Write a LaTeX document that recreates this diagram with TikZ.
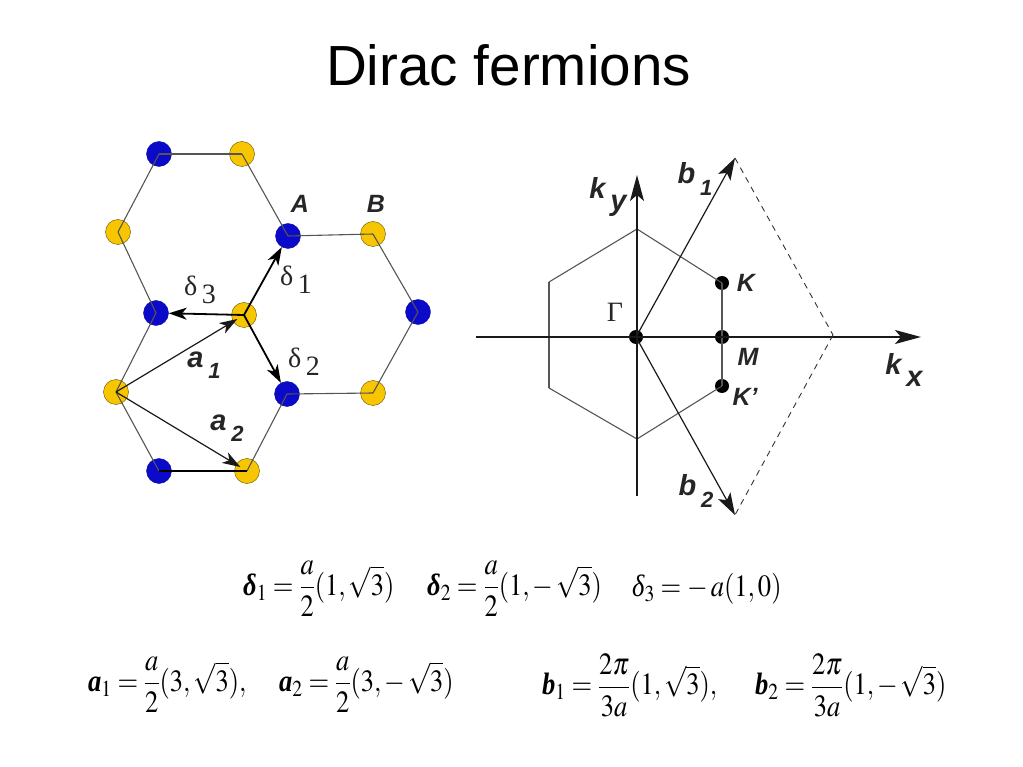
\documentclass[tikz,border=0pt]{standalone}
\usepackage{mathptmx}
\usepackage{amsmath}
\usepackage[no-math]{fontspec}
\setmainfont{Liberation Sans}
\newfontfamily\eqfont{Liberation Serif}
\usepackage{graphicx}
\usetikzlibrary{arrows.meta}
\definecolor{siteblue}{HTML}{0A0AC8}
\definecolor{siteyellow}{HTML}{F7C600}
\definecolor{bondgray}{HTML}{555555}
\newcommand{\bvec}[1]{\text{\eqfont\bfseries\itshape #1}}
\newcommand{\slab}[2]{#1\raisebox{-.38em}{\,\fontsize{22}{22}\selectfont #2}}
\newcommand{\klab}[2]{#1\raisebox{-.38em}{\,#2}}
\newcommand{\dlab}[1]{{\eqfont δ}\raisebox{-.3em}{\,\eqfont #1}}
\newcommand{\eqn}[1]{\scalebox{.885}[1.03]{$\displaystyle #1$}}

\begin{document}
\begin{tikzpicture}[x=1pt,y=-1pt,>={Stealth[length=18pt,width=12pt,inset=5pt]},
  a site/.style={circle,draw=siteblue!80!black,fill=siteblue,minimum size=25pt,inner sep=0pt},
  b site/.style={circle,draw=black!60!siteyellow,fill=siteyellow,minimum size=25pt,inner sep=0pt},
  k dot/.style={circle,fill=black,minimum size=14pt,inner sep=0pt},
  bond/.style={color=bondgray,line width=1.1pt},
  vec/.style={color=black,line width=1.8pt},
  lat/.style={color=black!90,line width=1.2pt},
  sym/.style={font=\fontsize{25}{25}\bfseries\itshape\selectfont,text=black!85,inner sep=0pt},
  big sym/.style={sym,font=\fontsize{29}{29}\bfseries\itshape\selectfont},
  grk/.style={font=\fontsize{28}{28}\selectfont,text=black!85,inner sep=0pt},
  eq/.style={anchor=west,inner sep=0pt,font=\fontsize{30}{36}\selectfont}]
  \useasboundingbox (0,0) rectangle (1023,767);

  \node[font=\fontsize{56.6}{56.6}\selectfont,inner sep=0pt] (title) at (508.5,65) {Dirac fermions};

  %% lattice
  \node[a site] (A1) at (159,154) {};
  \node[b site] (B1) at (242,154) {};
  \node[b site] (B2) at (118,232) {};
  \node[a site] (A2) at (288,236) {};
  \node[b site] (B3) at (373,234) {};
  \node[a site] (A3) at (156,313) {};
  \node[b site] (B4) at (244,315) {};
  \node[a site] (A4) at (418,312) {};
  \node[b site] (B5) at (116,392) {};
  \node[a site] (A5) at (287,394) {};
  \node[b site] (B6) at (373,393) {};
  \node[a site] (A6) at (159,471) {};
  \node[b site] (B7) at (247,471) {};

  \path[bond]
    (A1.center) edge (B1.center)
    (B1.center) edge (A2.center)
    (A2.center) edge (B3.center)
    (B3.center) edge (A4.center)
    (A4.center) edge (B6.center)
    (B6.center) edge (A5.center)
    (A5.center) edge (B7.center)
    (A6.center) edge (B5.center)
    (B5.center) edge (A3.center)
    (A3.center) edge (B2.center)
    (B2.center) edge (A1.center);
  \draw[draw=black,line width=1.2pt] (A6.center) -- (B7.center);

  \path[vec,->]
    (B4.center) edge (A2)
    (B4.center) edge (A5)
    (B4.center) edge (A3);
  \path[lat,->,shorten >=-5pt]
    (B5.center) edge (B4)
    (B5.center) edge (B7);

  \node[sym] (lblA) at (300,204) {A};
  \node[sym] (lblB) at (376,204) {B};
  \node[grk] (d1) at (296,280) {\dlab{1}};
  \node[grk] (d2) at (304,362) {\dlab{2}};
  \node[grk] (d3) at (200,290) {\dlab{3}};
  \node[big sym] (lbla1) at (204,365) {\slab{a}{1}};
  \node[big sym] (lbla2) at (227,428) {\slab{a}{2}};

  %% reciprocal lattice
  \node[k dot] (G) at (636,337) {};
  \node[k dot] (M) at (722,337) {};
  \node[k dot] (K) at (722,283) {};
  \node[k dot] (Kp) at (722,386) {};
  \coordinate (xl) at (476,337);
  \coordinate (xr) at (921,337);
  \coordinate (yb) at (637,496);
  \coordinate (yt) at (637,175);
  \coordinate (ht) at (637,229);
  \coordinate (hl) at (549,282);
  \coordinate (hd) at (549,388);
  \coordinate (hb) at (637,439);
  \coordinate (b1) at (735,158);
  \coordinate (b2) at (735,515);
  \coordinate (bx) at (833,335);

  \path[bond]
    (K.center) edge (ht)
    (ht) edge (hl)
    (hl) edge (hd)
    (hd) edge (hb)
    (hb) edge (Kp.center)
    (Kp.center) edge (K.center);
  \path[lat,-{Stealth[length=26pt,width=14pt,inset=6pt]}]
    (xl) edge (xr)
    (yb) edge (yt);
  \path[lat,-{Stealth[length=22pt,width=14pt,inset=5pt]}]
    (G.center) edge (b1)
    (G.center) edge (b2);
  \path[color=black!80,line width=.9pt,dash pattern=on 6pt off 5pt]
    (b1) edge (bx)
    (bx) edge (b2);

  \node[sym] (lblk) at (746,283) {K};
  \node[sym] (lblm) at (748,357) {M};
  \node[sym] (lblkp) at (745,397) {K'};
  \node[grk] (lblg) at (615,312) {\eqfont Γ};
  \node[big sym] (lblkx) at (904,370) {\klab{k}{x}};
  \node[big sym] (lblky) at (608,197) {\klab{k}{y}};
  \node[big sym] (lblb1) at (695,179) {\slab{b}{1}};
  \node[big sym] (lblb2) at (696,491) {\slab{b}{2}};

  %% equations
  \node[eq] (e1) at (243,589) {\eqn{\bvec{δ}_1=\frac{a}{2}(1,\sqrt{3})}};
  \node[eq] (e2) at (427,589) {\eqn{\bvec{δ}_2=\frac{a}{2}(1,-\,\sqrt{3})}};
  \node[eq] (e3) at (632,589) {\eqn{\text{\eqfont\itshape δ}_3=-\,a(1,0)}};
  \node[eq] (e4) at (88,685) {\eqn{\bvec{a}_1=\frac{a}{2}(3,\sqrt{3}),}};
  \node[eq] (e5) at (279,685) {\eqn{\bvec{a}_2=\frac{a}{2}(3,-\,\sqrt{3})}};
  \node[eq] (e6) at (542,685) {\eqn{\bvec{b}_1=\frac{2\pi}{3a}(1,\sqrt{3}),}};
  \node[eq] (e7) at (755,685) {\eqn{\bvec{b}_2=\frac{2\pi}{3a}(1,-\,\sqrt{3})}};
\end{tikzpicture}
\end{document}
